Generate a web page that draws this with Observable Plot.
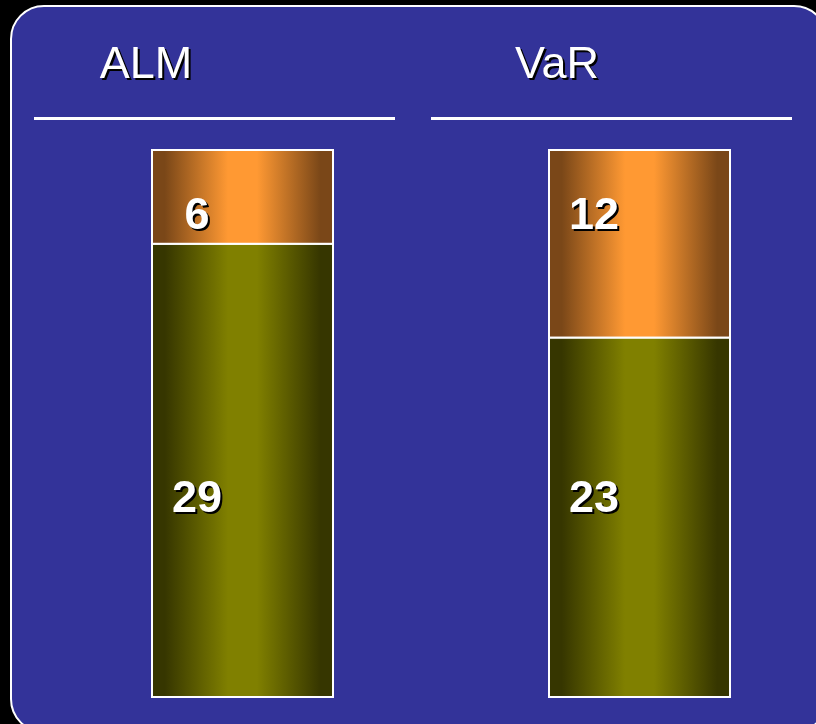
<!DOCTYPE html>
<html><head><meta charset="utf-8">
<script src="https://cdn.jsdelivr.net/npm/d3@7"></script>
<script src="https://cdn.jsdelivr.net/npm/@observablehq/plot@0.6"></script>
<style>
html,body{margin:0;padding:0;background:#000;overflow:hidden;}
#wrap{position:relative;width:816px;height:724px;overflow:hidden;}
#panel{position:absolute;left:10px;top:5px;width:818px;height:728px;background:#333399;border:2px solid #fff;border-radius:34px;box-sizing:border-box;}
#chart{position:absolute;left:0;top:0;}
</style></head><body>
<div id="wrap"><div id="panel"></div><div id="chart"></div></div>
<script>
const categories = ["ALM", "VaR"];
const baseValues = [29, 23];
const topValues = [6, 12];
const titles = ["ALM", "VaR"];

const baseRows = categories.map((c, i) => ({cat: c, y1: 0, y2: baseValues[i], value: baseValues[i]}));
const topRows = categories.map((c, i) => ({cat: c, y1: baseValues[i], y2: baseValues[i] + topValues[i], value: topValues[i]}));
const yMax = d3.max(categories.map((c, i) => baseValues[i] + topValues[i]));

const NS = "http://www.w3.org/2000/svg";
function gradient(id, dark, bright) {
  const g = document.createElementNS(NS, "linearGradient");
  g.setAttribute("id", id);
  g.setAttribute("x1", "0"); g.setAttribute("x2", "1");
  g.setAttribute("y1", "0"); g.setAttribute("y2", "0");
  [[0, dark], [0.07, dark], [0.42, bright], [0.58, bright], [0.93, dark], [1, dark]].forEach(([o, c]) => {
    const s = document.createElementNS(NS, "stop");
    s.setAttribute("offset", o);
    s.setAttribute("stop-color", c);
    g.appendChild(s);
  });
  return g;
}
const defsMark = () => {
  const defs = document.createElementNS(NS, "defs");
  defs.appendChild(gradient("gOlive", "#363600", "#808000"));
  defs.appendChild(gradient("gOrange", "#7a4718", "#ff9933"));
  return defs;
};
const underlineMark = (index, scales) => {
  const g = document.createElementNS(NS, "g");
  const bw = scales.x.bandwidth();
  categories.forEach(c => {
    const cx = scales.x(c) + bw / 2 - 28;
    const l = document.createElementNS(NS, "line");
    l.setAttribute("x1", cx - 180.5); l.setAttribute("x2", cx + 180.5);
    l.setAttribute("y1", 118.5); l.setAttribute("y2", 118.5);
    l.setAttribute("stroke", "#fff"); l.setAttribute("stroke-width", 3);
    g.appendChild(l);
  });
  return g;
};

const font = "Liberation Sans, Arial, sans-serif";
const numOpts = {x: "cat", text: d => String(d.value), fontSize: 45, fontWeight: "bold", fontFamily: font, fill: "#fff", dx: -46};

const chart = Plot.plot({
  width: 816,
  height: 724,
  margin: 0,
  style: {background: "transparent", overflow: "visible"},
  x: {type: "band", domain: categories, range: [72, 810], paddingInner: 0.545, paddingOuter: 0.2, axis: null},
  y: {domain: [0, yMax], range: [697, 150], axis: null},
  marks: [
    defsMark,
    Plot.barY(baseRows, {x: "cat", y1: "y1", y2: "y2", fill: "url(#gOlive)", stroke: "#fff", strokeWidth: 2, inset: 0}),
    Plot.barY(topRows, {x: "cat", y1: "y1", y2: "y2", fill: "url(#gOrange)", stroke: "#fff", strokeWidth: 2, inset: 0}),
    Plot.text(topRows, {...numOpts, y: "y2", dy: 64}),
    Plot.text(baseRows, {...numOpts, y: 12.8}),
    Plot.text([titles[0]], {x: () => categories[0], frameAnchor: "top", lineAnchor: "middle", dy: 63, dx: -97, fontSize: 45, fontFamily: font, fill: "#fff", text: d => d}),
    Plot.text([titles[1]], {x: () => categories[1], frameAnchor: "top", lineAnchor: "middle", dy: 63, dx: -83, fontSize: 45, fontFamily: font, fill: "#fff", text: d => d}),
    underlineMark
  ]
});
chart.querySelectorAll('g[aria-label="text"]').forEach(g => {
  g.style.filter = "drop-shadow(2px 2px 0px #000)";
});
document.getElementById("chart").appendChild(chart);
</script>
</body></html>
